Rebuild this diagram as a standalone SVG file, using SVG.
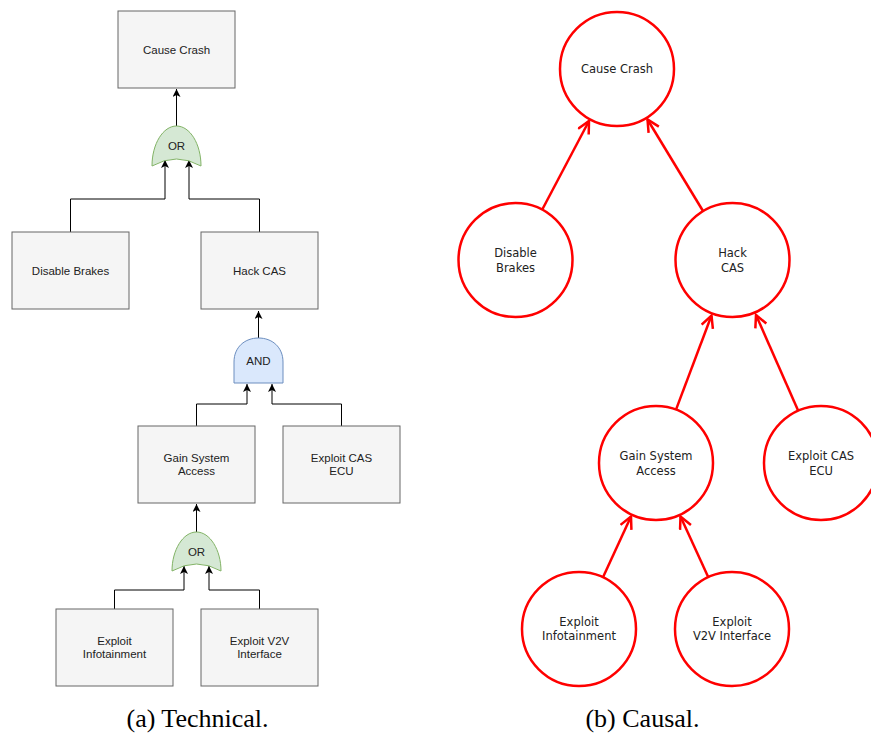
<svg xmlns="http://www.w3.org/2000/svg" width="871" height="737" viewBox="0 0 871 737">
<defs>
<style>
.box{fill:#f5f5f5;stroke:#666;stroke-width:1}
.lt{font-family:"Liberation Sans",Arial,sans-serif;font-size:11.5px;fill:#222;text-anchor:middle;dominant-baseline:central}
.ct{font-family:"DejaVu Sans",sans-serif;font-size:11.5px;fill:#222;text-anchor:middle;dominant-baseline:central}
.or{fill:#d5e8d4;stroke:#82b366;stroke-width:1}
.and{fill:#dae8fc;stroke:#6c8ebf;stroke-width:1}
.conn{fill:none;stroke:#000;stroke-width:1}
.circ{fill:#fff;stroke:#f00;stroke-width:2.5}
.rc{fill:none;stroke:#f00;stroke-width:2.5}
.cap{font-family:"Liberation Serif","Times New Roman",serif;font-size:26px;fill:#000;text-anchor:middle}
</style>
<marker id="blk" markerUnits="userSpaceOnUse" markerWidth="10" markerHeight="10" refX="8" refY="4" orient="auto">
<path d="M0,0 L8,4 L0,8 L2,4 Z" fill="#000"/>
</marker>
<marker id="red" markerUnits="userSpaceOnUse" markerWidth="16" markerHeight="16" refX="13" refY="7" orient="auto">
<path d="M1,1 L13,7 L1,13" fill="none" stroke="#f00" stroke-width="2.5"/>
</marker>
</defs>
<rect width="871" height="737" fill="#fff"/>

<g id="connectors">
<path class="conn" d="M176.5,126 V89" marker-end="url(#blk)"/>
<path class="conn" d="M70.5,232 V199 H165 V160" marker-end="url(#blk)"/>
<path class="conn" d="M259.5,232 V199 H189 V160" marker-end="url(#blk)"/>
<path class="conn" d="M258.5,338 V311" marker-end="url(#blk)"/>
<path class="conn" d="M196.5,426 V404 H247 V384" marker-end="url(#blk)"/>
<path class="conn" d="M341.5,426 V404 H272 V384" marker-end="url(#blk)"/>
<path class="conn" d="M196.5,532 V504" marker-end="url(#blk)"/>
<path class="conn" d="M114.5,609 V590 H184 V566" marker-end="url(#blk)"/>
<path class="conn" d="M259.5,609 V590 H209 V566" marker-end="url(#blk)"/>

<line class="rc" x1="542" y1="210" x2="589" y2="121" marker-end="url(#red)"/>
<line class="rc" x1="703" y1="211" x2="647.5" y2="119.5" marker-end="url(#red)"/>
<line class="rc" x1="676" y1="409.6" x2="711.5" y2="315.5" marker-end="url(#red)"/>
<line class="rc" x1="798.2" y1="410.8" x2="756" y2="315" marker-end="url(#red)"/>
<line class="rc" x1="603" y1="577.3" x2="631" y2="516.5" marker-end="url(#red)"/>
<line class="rc" x1="708.3" y1="577.2" x2="680.5" y2="516.5" marker-end="url(#red)"/>
</g>

<g id="t-cause-crash"><rect class="box" x="118" y="11" width="117" height="77"/><text class="lt" x="176.5" y="49.5">Cause Crash</text></g>
<g id="t-or1"><path class="or" d="M152,166 C152,144 163,126 176.5,126 C190,126 201,144 201,166 Q176.5,152 152,166 Z"/><text class="lt" x="176.5" y="146">OR</text></g>
<g id="t-disable-brakes"><rect class="box" x="12" y="232" width="117" height="77"/><text class="lt" x="70.5" y="271">Disable Brakes</text></g>
<g id="t-hack-cas"><rect class="box" x="201" y="232" width="117" height="77"/><text class="lt" x="259.5" y="271">Hack CAS</text></g>
<g id="t-and"><path class="and" d="M234,383 L234,362 C234,347 245,338 258.5,338 C272,338 283,347 283,362 L283,383 Z"/><text class="lt" x="258.5" y="361">AND</text></g>
<g id="t-gain"><rect class="box" x="138" y="426" width="117" height="77"/><text class="lt" x="196.5" y="458">Gain System</text><text class="lt" x="196.5" y="471">Access</text></g>
<g id="t-ecu"><rect class="box" x="283" y="426" width="117" height="77"/><text class="lt" x="341.5" y="458">Exploit CAS</text><text class="lt" x="341.5" y="471">ECU</text></g>
<g id="t-or2"><path class="or" d="M172,571 C172,550 183,532 196.5,532 C210,532 221,550 221,571 Q196.5,557 172,571 Z"/><text class="lt" x="196.5" y="552">OR</text></g>
<g id="t-infotainment"><rect class="box" x="56" y="609" width="117" height="77"/><text class="lt" x="114.5" y="641">Exploit</text><text class="lt" x="114.5" y="654">Infotainment</text></g>
<g id="t-v2v"><rect class="box" x="201" y="609" width="117" height="77"/><text class="lt" x="259.5" y="641">Exploit V2V</text><text class="lt" x="259.5" y="654">Interface</text></g>

<g id="c-cause-crash"><circle class="circ" cx="617" cy="69" r="57"/><text class="ct" x="617" y="69">Cause Crash</text></g>
<g id="c-disable-brakes"><circle class="circ" cx="515.5" cy="260" r="57"/><text class="ct" x="515.5" y="252.5">Disable</text><text class="ct" x="515.5" y="267.5">Brakes</text></g>
<g id="c-hack-cas"><circle class="circ" cx="732.5" cy="260" r="57"/><text class="ct" x="732.5" y="252.5">Hack</text><text class="ct" x="732.5" y="267.5">CAS</text></g>
<g id="c-gain"><circle class="circ" cx="656" cy="463" r="57"/><text class="ct" x="656" y="456">Gain System</text><text class="ct" x="656" y="471">Access</text></g>
<g id="c-ecu"><circle class="circ" cx="821" cy="463" r="57"/><text class="ct" x="821" y="456">Exploit CAS</text><text class="ct" x="821" y="471">ECU</text></g>
<g id="c-infotainment"><circle class="circ" cx="579" cy="629" r="57"/><text class="ct" x="579" y="622">Exploit</text><text class="ct" x="579" y="636">Infotainment</text></g>
<g id="c-v2v"><circle class="circ" cx="732" cy="629" r="57"/><text class="ct" x="732" y="622">Exploit</text><text class="ct" x="732" y="636">V2V Interface</text></g>

<text class="cap" x="197.5" y="727">(a) Technical.</text>
<text class="cap" x="642.5" y="727">(b) Causal.</text>
</svg>
